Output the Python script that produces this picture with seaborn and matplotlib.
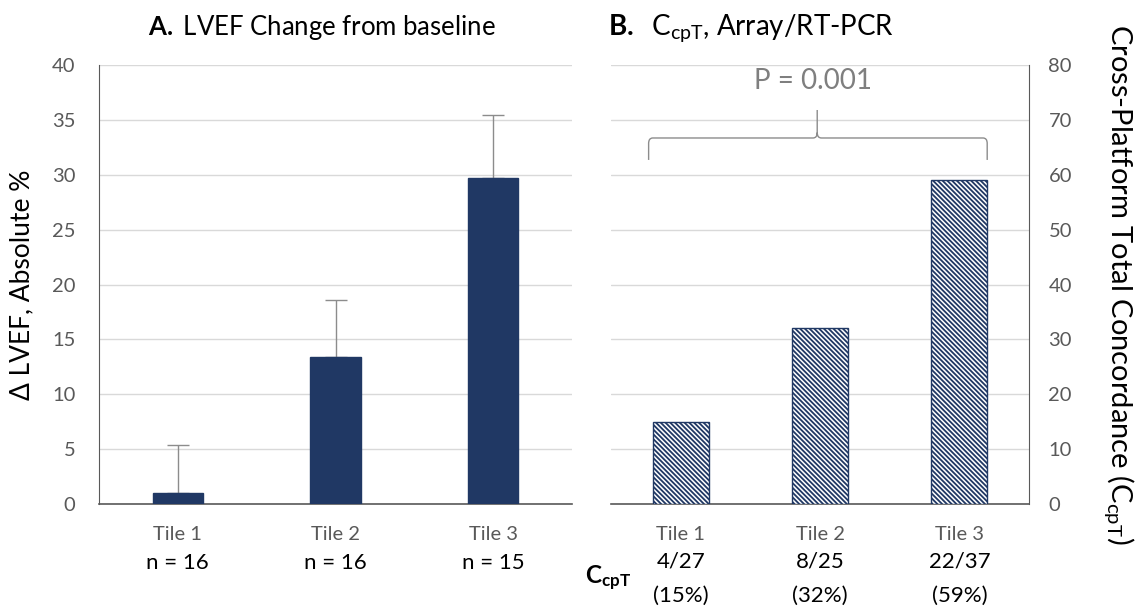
import matplotlib
matplotlib.use("Agg")
import matplotlib.pyplot as plt
from matplotlib.path import Path
from matplotlib.patches import PathPatch
import seaborn as sns
import pandas as pd

# data
tiles = ["Tile 1", "Tile 2", "Tile 3"]
lvef_change = [1.0, 13.4, 29.7]
lvef_err_up = [4.4, 5.2, 5.7]
n_labels = ["n = 16", "n = 16", "n = 15"]
ccpt_pct = [15, 32, 59]
ccpt_frac = ["4/27", "8/25", "22/37"]
ccpt_pct_labels = ["(15%)", "(32%)", "(59%)"]
p_text = "P = 0.001"

sns.set_style("white")
plt.rcParams["font.family"] = ["Lato", "DejaVu Sans"]
plt.rcParams["mathtext.fontset"] = "custom"
plt.rcParams["mathtext.rm"] = "Lato"
plt.rcParams["mathtext.bf"] = "Lato:bold"
plt.rcParams["mathtext.it"] = "Lato:italic"
plt.rcParams["hatch.linewidth"] = 1.3

navy = "#203864"
tick_gray = "#595959"
grid_gray = "#d9d9d9"

W, H = 1146, 609
fig = plt.figure(figsize=(W / 100, H / 100), dpi=100)
axA = fig.add_axes([99 / W, 105 / H, 473 / W, 439 / H])
axB = fig.add_axes([611 / W, 105 / H, 418 / W, 439 / H])

dfA = pd.DataFrame({"tile": tiles, "val": lvef_change})
dfB = pd.DataFrame({"tile": tiles, "val": ccpt_pct})

# ---- panel A
sns.barplot(data=dfA, x="tile", y="val", ax=axA, color=navy, width=0.32,
            saturation=1, errorbar=None, zorder=3)
for p in axA.patches:
    p.set_edgecolor(navy)
axA.errorbar(range(len(tiles)), lvef_change,
             yerr=[[0] * len(tiles), lvef_err_up], fmt="none",
             ecolor="#8c8c8c", elinewidth=1, capsize=8, capthick=1, zorder=2.5)
axA.set_ylim(0, 40)
axA.set_yticks(range(0, 41, 5))
axA.set_xlim(-0.5, 2.5)
axA.set_ylabel("Δ LVEF, Absolute %", fontsize=19, color="black", labelpad=13)
axA.set_xlabel("")

# ---- panel B
sns.barplot(data=dfB, x="tile", y="val", ax=axB, color="white", width=0.4,
            saturation=1, errorbar=None, zorder=3)
for p in axB.patches:
    p.set_facecolor("white")
    p.set_edgecolor(navy)
    p.set_hatch("\\\\\\\\\\\\\\")
    p.set_linewidth(1)
axB.set_ylim(0, 80)
axB.set_yticks(range(0, 81, 10))
axB.set_xlim(-0.5, 2.5)
axB.yaxis.tick_right()
axB.yaxis.set_label_position("right")
axB.set_ylabel(r"Cross-Platform Total Concordance ($\mathregular{C_{cpT}}$)",
               fontsize=21, color="black", rotation=-90, labelpad=46)
axB.set_xlabel("")

for ax in (axA, axB):
    ax.grid(axis="y", color=grid_gray, lw=1, zorder=0)
    ax.set_axisbelow(True)
    ax.tick_params(axis="both", length=0, labelsize=14.5, labelcolor=tick_gray)
    ax.tick_params(axis="x", pad=16)
    for s in ax.spines.values():
        s.set_visible(False)
    ax.spines["bottom"].set_visible(True)
    ax.spines["bottom"].set_color(tick_gray)
    ax.spines["bottom"].set_linewidth(1.2)
axA.spines["left"].set_visible(True)
axA.spines["left"].set_color(tick_gray)
axB.spines["right"].set_visible(True)
axB.spines["right"].set_color(tick_gray)
axA.tick_params(axis="y", pad=17)
axB.tick_params(axis="y", pad=14)

# labels below the axes
transA = axA.get_xaxis_transform()
transB = axB.get_xaxis_transform()
for i in range(len(tiles)):
    axA.text(i, -0.135, n_labels[i], transform=transA, ha="center", va="center",
             fontsize=16, color="black")
    axB.text(i, -0.132, ccpt_frac[i], transform=transB, ha="center", va="center",
             fontsize=16, color="black")
    axB.text(i, -0.21, ccpt_pct_labels[i], transform=transB, ha="center",
             va="center", fontsize=16, color="black")
fig.text(608 / W, 1 - 578 / H, r"$\mathbf{C_{cpT}}$", ha="center", va="center",
         fontsize=17.5, color="black")

# bracket with p-value
x0, x1, xc = -0.23, 2.2, 0.98
yb, ym, yt = 62.7, 66.7, 71.8
dx, dy = 0.03, 1.0
verts = [(x0, yb), (x0, ym - dy), (x0, ym), (x0 + dx, ym),
         (xc - dx, ym), (xc, ym), (xc, ym + dy), (xc, yt),
         (xc, ym + dy), (xc, ym), (xc + dx, ym),
         (x1 - dx, ym), (x1, ym), (x1, ym - dy), (x1, yb)]
codes = [Path.MOVETO, Path.LINETO, Path.CURVE3, Path.CURVE3,
         Path.LINETO, Path.CURVE3, Path.CURVE3, Path.LINETO,
         Path.MOVETO, Path.CURVE3, Path.CURVE3,
         Path.LINETO, Path.CURVE3, Path.CURVE3, Path.LINETO]
axB.add_patch(PathPatch(Path(verts, codes), fill=False, edgecolor="#8c8c8c",
                        lw=1, zorder=5))
axB.text(0.95, 77, p_text, ha="center", va="center", fontsize=20, color="#7f7f7f")

# titles
fig.text(322 / W, 1 - 28 / H, r"$\mathbf{A.}$ LVEF Change from baseline",
         ha="center", va="center", fontsize=18.5, color="black")
fig.text(608 / W, 1 - 28 / H, r"$\mathbf{B.}$  $\mathregular{C_{cpT}}$, Array/RT-PCR",
         ha="left", va="center", fontsize=20, color="black")

fig.savefig("out.png", dpi=100)
